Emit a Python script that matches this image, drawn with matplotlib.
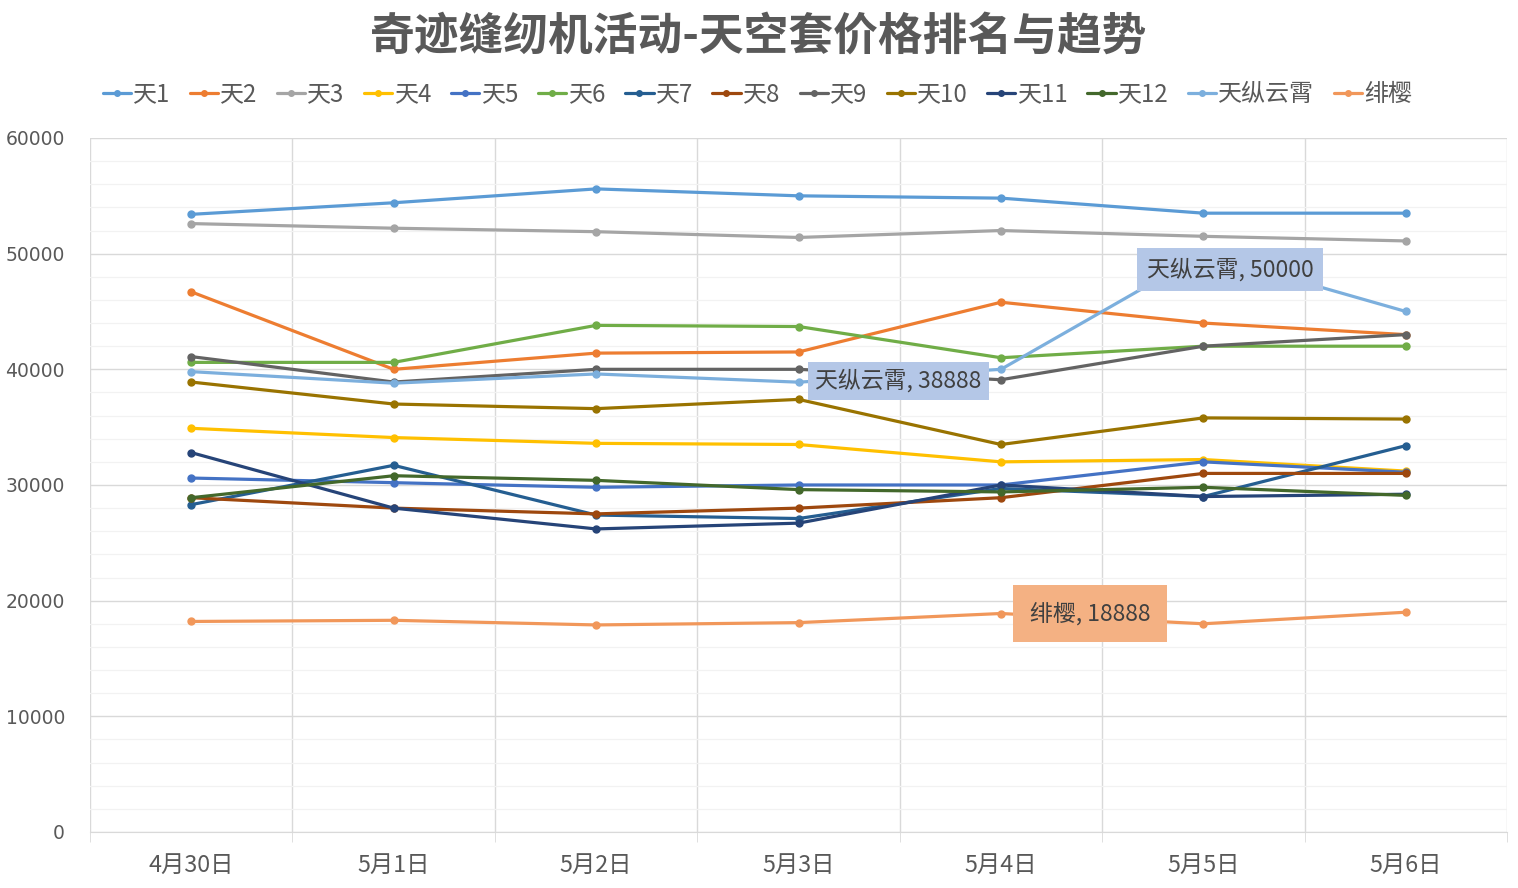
import matplotlib
matplotlib.use("Agg")
import matplotlib.pyplot as plt
import numpy as np

plt.rcParams['font.family'] = ['Noto Sans CJK SC', 'DejaVu Sans']

dates = ["4月30日", "5月1日", "5月2日", "5月3日", "5月4日", "5月5日", "5月6日"]

tian1 = [53400, 54400, 55600, 55000, 54800, 53500, 53500]
tian2 = [46700, 40000, 41400, 41500, 45800, 44000, 43000]
tian3 = [52600, 52200, 51900, 51400, 52000, 51500, 51100]
tian4 = [34900, 34100, 33600, 33500, 32000, 32200, 31200]
tian5 = [30600, 30200, 29800, 30000, 30000, 32000, 31100]
tian6 = [40600, 40600, 43800, 43700, 41000, 42000, 42000]
tian7 = [28300, 31700, 27400, 27100, 29700, 29000, 33400]
tian8 = [28900, 28000, 27500, 28000, 28900, 31000, 31000]
tian9 = [41100, 38900, 40000, 40000, 39100, 42000, 43000]
tian10 = [38900, 37000, 36600, 37400, 33500, 35800, 35700]
tian11 = [32800, 28000, 26200, 26700, 30000, 29000, 29200]
tian12 = [28900, 30800, 30400, 29600, 29400, 29800, 29100]
tianzong = [39800, 38800, 39600, 38888, 40000, 50000, 45000]
feiying = [18200, 18300, 17900, 18100, 18888, 18000, 19000]

names = ["天1", "天2", "天3", "天4", "天5", "天6", "天7", "天8", "天9",
         "天10", "天11", "天12", "天纵云霄", "绯樱"]
series = [tian1, tian2, tian3, tian4, tian5, tian6, tian7, tian8, tian9,
          tian10, tian11, tian12, tianzong, feiying]
colors = ["#5B9BD5", "#ED7D31", "#A5A5A5", "#FFC000", "#4472C4", "#70AD47",
          "#255E91", "#9E480E", "#636363", "#997300", "#264478", "#43682B",
          "#7CAFDD", "#F1975A"]
yticks = np.arange(0, 60001, 10000)

txt = "#595959"
fig = plt.figure(figsize=(15.18, 8.88), dpi=100)
ax = fig.add_axes([0.0593, 0.0631, 0.9335, 0.7815])

x = np.arange(len(dates))
for vals, name, c in zip(series, names, colors):
    ax.plot(x, vals, color=c, lw=2.3, marker="o", ms=5, label=name,
            solid_capstyle="round", solid_joinstyle="round")

ax.set_xlim(-0.5, len(dates) - 0.5)
ax.set_ylim(0, 60000)
ax.set_yticks(yticks, labels=[str(v) for v in yticks],
              fontfamily="DejaVu Sans", fontsize=13.5)
ax.set_yticks(np.arange(0, 60001, 2000), minor=True)
ax.set_xticks(x, labels=dates, fontsize=16.8)
ax.set_xticks(np.arange(-0.5, len(dates), 1.0), minor=True)

ax.grid(which="major", axis="y", color="#D9D9D9", lw=1)
ax.grid(which="minor", axis="y", color="#F2F2F2", lw=0.9)
ax.grid(which="minor", axis="x", color="#D9D9D9", lw=1)
ax.set_axisbelow(True)

for s in ["top", "right", "left"]:
    ax.spines[s].set_visible(False)
ax.spines["bottom"].set_color("#D9D9D9")
ax.tick_params(axis="x", which="major", length=0, pad=16, labelcolor=txt)
ax.tick_params(axis="x", which="minor", length=7, color="#D9D9D9", direction="out")
ax.tick_params(axis="y", which="both", length=0, pad=18, labelcolor=txt)

# data labels
ax.annotate("天纵云霄, 50000", xy=(5, tianzong[5]), xytext=(27, -16),
            textcoords="offset pixels", ha="center", va="center",
            fontsize=16.5, color="#404040", zorder=10,
            bbox=dict(boxstyle="square,pad=0.42", fc="#B4C7E7", ec="none"))
ax.annotate("天纵云霄, 38888", xy=(3, tianzong[3]), xytext=(100, 1),
            textcoords="offset pixels", ha="center", va="center",
            fontsize=16.5, color="#404040", zorder=10,
            bbox=dict(boxstyle="square,pad=0.32", fc="#B4C7E7", ec="none"))
ax.annotate("绯樱, 18888", xy=(4, feiying[4]), xytext=(89, 0),
            textcoords="offset pixels", ha="center", va="center",
            fontsize=16.5, color="#404040", zorder=10,
            bbox=dict(boxstyle="square,pad=0.75", fc="#F4B183", ec="none"))

fig.text(0.5, 0.959, "奇迹缝纫机活动-天空套价格排名与趋势", ha="center", va="center",
         fontsize=32.2, fontweight="bold", color=txt)

leg = fig.legend(loc="center", bbox_to_anchor=(0.499, 0.894), ncol=14, frameon=False,
                 fontsize=17.3, handlelength=1.17, handletextpad=0.1, columnspacing=0.8,
                 labelcolor=txt)
for h in leg.legend_handles:
    h.set_markersize(4)
    h.set_linewidth(2.3)

fig.savefig("out.png", dpi=100)
